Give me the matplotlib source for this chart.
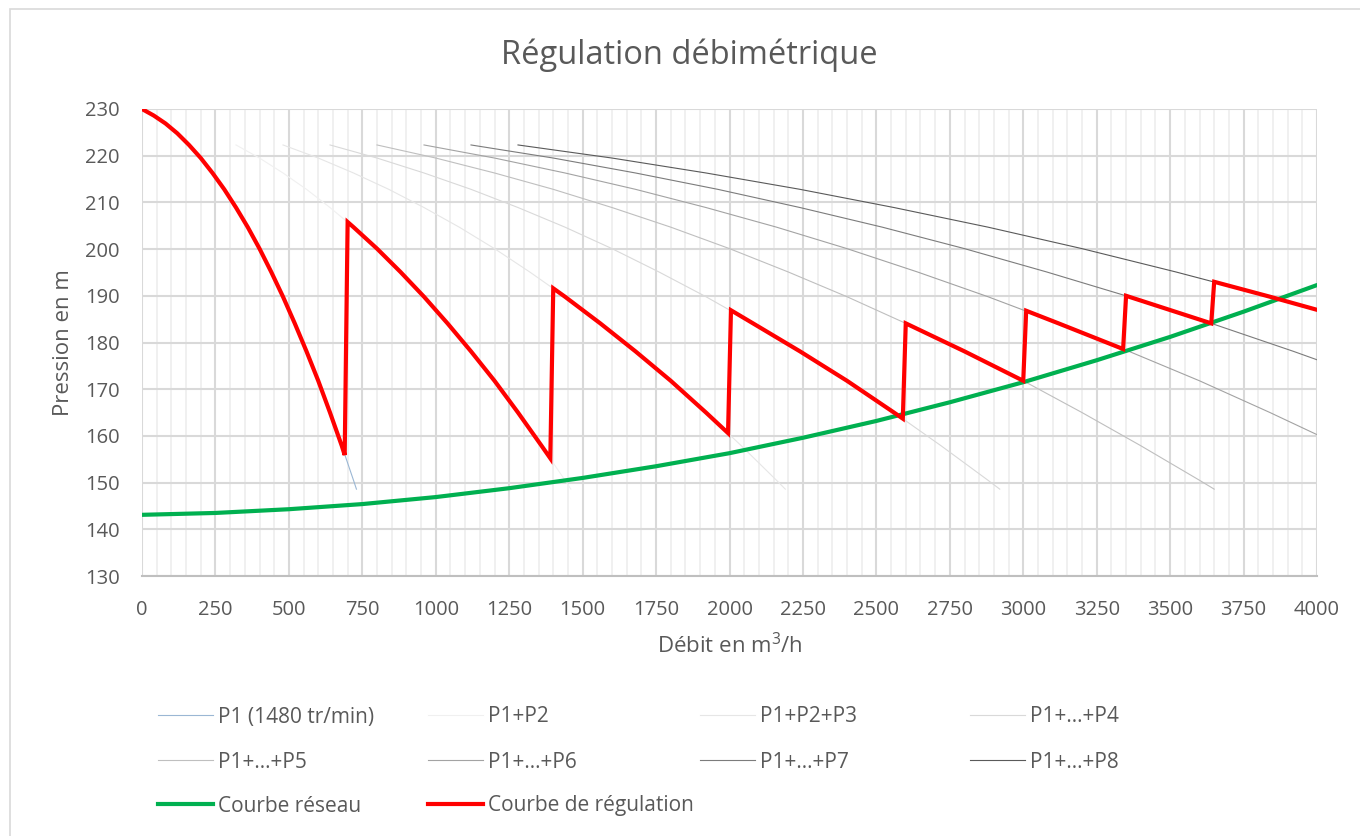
import matplotlib
matplotlib.use("Agg")
import matplotlib.pyplot as plt
from matplotlib.lines import Line2D
from matplotlib.patches import Rectangle
from matplotlib.ticker import MultipleLocator

plt.rcParams["font.family"] = ["Open Sans", "DejaVu Sans"]
plt.rcParams["mathtext.fontset"] = "custom"
plt.rcParams["mathtext.rm"] = "Open Sans"
plt.rcParams["mathtext.it"] = "Open Sans"

# single pump curve P1 (flow m3/h, head m)
p1_q = [0, 40, 80, 120, 160, 200, 240, 280, 320, 360, 400, 440, 480,
        520, 560, 600, 640, 680, 720, 730]
p1_h = [230.0, 228.6, 226.9, 224.8, 222.3, 219.5, 216.3, 212.8, 208.9,
        204.7, 200.1, 195.1, 189.8, 184.1, 178.1, 171.8, 165.0, 157.9,
        150.5, 148.6]

# pumps in parallel: same heads, flows read for each combination
combo_h = [222.3, 219.5, 216.3, 212.8, 208.9, 204.7, 200.1, 195.1, 189.8,
           184.1, 178.1, 171.8, 165.0, 157.9, 150.5, 148.6]
p2_q = [320, 400, 480, 560, 640, 720, 800, 880, 960, 1040, 1120, 1200,
        1280, 1360, 1440, 1460]
p3_q = [480, 600, 720, 840, 960, 1080, 1200, 1320, 1440, 1560, 1680, 1800,
        1920, 2040, 2160, 2190]
p4_q = [640, 800, 960, 1120, 1280, 1440, 1600, 1760, 1920, 2080, 2240, 2400,
        2560, 2720, 2880, 2920]
p5_q = [800, 1000, 1200, 1400, 1600, 1800, 2000, 2200, 2400, 2600, 2800,
        3000, 3200, 3400, 3600, 3650]
p6_q = [960, 1200, 1440, 1680, 1920, 2160, 2400, 2640, 2880, 3120, 3360,
        3600, 3840, 4080, 4320, 4380]
p7_q = [1120, 1400, 1680, 1960, 2240, 2520, 2800, 3080, 3360, 3640, 3920,
        4200, 4480, 4760, 5040, 5110]
p8_q = [1280, 1600, 1920, 2240, 2560, 2880, 3200, 3520, 3840, 4160, 4480,
        4800, 5120, 5440, 5760, 5840]

pump_labels = ["P1 (1480 tr/min)", "P1+P2", "P1+P2+P3", "P1+...+P4",
               "P1+...+P5", "P1+...+P6", "P1+...+P7", "P1+...+P8"]
pump_colors = ["#9bb7d4", "#f0f0f0", "#e6e6e6", "#d9d9d9",
               "#bfbfbf", "#a3a3a3", "#7c7c7c", "#5a5a5a"]

# network curve
net_q = [0, 250, 500, 750, 1000, 1250, 1500, 1750, 2000, 2250, 2500,
         2750, 3000, 3250, 3500, 3750, 4000]
net_h = [143.1, 143.5, 144.3, 145.4, 146.9, 148.8, 151.0, 153.5, 156.3,
         159.6, 163.2, 167.2, 171.5, 176.2, 181.2, 186.6, 192.3]

# regulation curve
reg_q = [0, 40, 80, 120, 160, 200, 240, 280, 320, 360, 400, 440, 480,
         520, 560, 600, 640, 680, 690, 700,
         720, 800, 880, 960, 1040, 1120, 1200, 1280, 1360, 1390, 1400,
         1440, 1560, 1680, 1800, 1920, 1995, 2005,
         2080, 2240, 2400, 2560, 2590, 2600,
         2800, 3000, 3010,
         3120, 3340, 3350,
         3640, 3650,
         3840, 4000]
reg_h = [230.0, 228.6, 226.9, 224.8, 222.3, 219.5, 216.3, 212.8, 208.9,
         204.7, 200.1, 195.1, 189.8, 184.1, 178.1, 171.8, 165.0, 157.9, 155.9, 205.8,
         204.7, 200.1, 195.1, 189.8, 184.1, 178.1, 171.8, 165.0, 157.9, 155.2, 191.6,
         189.8, 184.1, 178.1, 171.8, 165.0, 160.6, 186.9,
         184.1, 178.1, 171.8, 165.0, 163.7, 184.1,
         178.1, 171.8, 186.8,
         184.1, 178.6, 190.0,
         184.1, 193.0,
         189.8, 187.0]

txt = "#595959"

fig = plt.figure(figsize=(13.6, 8.36), dpi=100)
fig.add_artist(Rectangle((10 / 1360, -0.1), 1.2, 1.1 - 9 / 836,
                         transform=fig.transFigure, fill=False,
                         edgecolor="#d9d9d9", linewidth=1.2))

ax = fig.add_axes([142 / 1360, 1 - 576 / 836, (1317 - 142) / 1360, (576 - 109) / 836])

ax.plot(p1_q, p1_h, color=pump_colors[0], lw=0.8)
combos = [p2_q, p3_q, p4_q, p5_q, p6_q, p7_q, p8_q]
for i in range(len(combos)):
    ax.plot(combos[i], combo_h, color=pump_colors[i + 1], lw=0.8)
ax.plot(net_q, net_h, color="#00b050", lw=3.0, solid_capstyle="round")
ax.plot(reg_q, reg_h, color="#ff0000", lw=3.0, solid_joinstyle="miter")

ax.set_xlim(0, 4000)
ax.set_ylim(130, 230)
ax.xaxis.set_major_locator(MultipleLocator(250))
ax.xaxis.set_minor_locator(MultipleLocator(50))
ax.yaxis.set_major_locator(MultipleLocator(10))
ax.grid(True, which="major", color="#d9d9d9", lw=1.5)
ax.grid(True, which="minor", axis="x", color="#eeeeee", lw=1.2)
ax.set_axisbelow(True)
for s in ["top", "right", "left"]:
    ax.spines[s].set_visible(False)
ax.spines["bottom"].set_color("#bfbfbf")
ax.spines["bottom"].set_linewidth(1.5)
ax.tick_params(which="both", length=0, labelsize=14.5, colors=txt)
ax.tick_params(axis="x", pad=17)
ax.tick_params(axis="y", pad=16)

ax.set_xlabel("Débit en m$^3$/h", fontsize=16, color=txt, labelpad=10)
ax.set_ylabel("Pression en m", fontsize=16, color=txt, labelpad=8)
fig.text(0.507, 1 - 55 / 836, "Régulation débimétrique", fontsize=23.5,
         color=txt, ha="center", va="center")

# legend entries laid out row by row
entries = []
for i in range(8):
    entries.append((Line2D([], [], color=pump_colors[i], lw=0.8), pump_labels[i]))
entries.append((Line2D([], [], color="#00b050", lw=3.0), "Courbe réseau"))
entries.append((Line2D([], [], color="#ff0000", lw=3.0), "Courbe de régulation"))
col_x = [158, 428, 700, 970]
row_y = [717, 762, 806]
for k in range(len(entries)):
    h, lab = entries[k]
    fig.legend([h], [lab], loc="center left",
               bbox_to_anchor=(col_x[k % 4] / 1360, 1 - row_y[k // 4] / 836),
               frameon=False, fontsize=15, handlelength=2.64,
               handletextpad=0.24, borderpad=0, borderaxespad=0,
               labelcolor=txt)

fig.savefig("out.png", dpi=100)
